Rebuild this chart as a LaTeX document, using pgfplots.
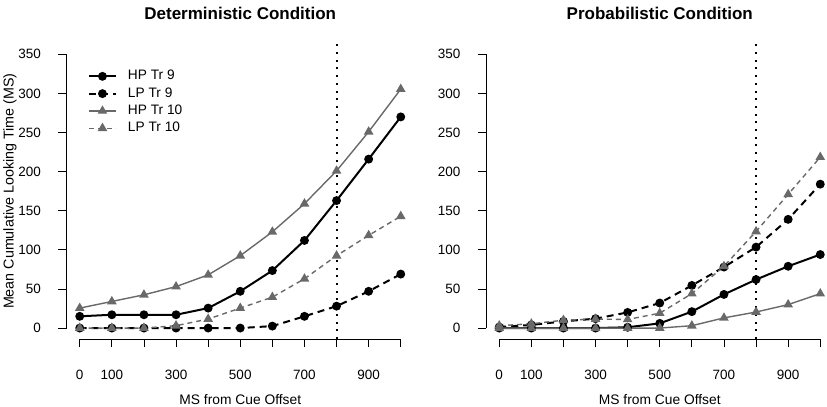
\documentclass[border=0pt]{standalone}
\usepackage{pgfplots}
\pgfplotsset{compat=1.18}
\usepackage{fontspec}
\setmainfont{Liberation Sans}
\definecolor{rgray}{RGB}{105,105,105}
\pgfplotsset{
 rstyle/.style={
  width=346.7bp, height=295.6bp, scale only axis,
  xmin=-40, xmax=1040, ymin=-14, ymax=364,
  clip=false,
  axis line style={draw=none},
  tick pos=left, tick align=outside,
  major tick length=8.5bp,
  tick style={black, line width=0.8bp},
  xtick={0,100,...,1000},
  xticklabels={0,100,{},300,{},500,{},700,{},900,{}},
  ytick={0,50,...,350},
  /pgf/number format/assume math mode=true,
  tick label style={font=\fontsize{13.5bp}{16bp}\selectfont, inner sep=0pt},
  xticklabel style={anchor=base, yshift=-32bp},
  yticklabel style={anchor=east, xshift=-17.4bp},
  xlabel style={font=\fontsize{13.8bp}{16bp}\selectfont, at={(axis description cs:0.5,0)}, anchor=base, yshift=-65bp},
  ylabel style={font=\fontsize{14.3bp}{16bp}\selectfont, at={(axis description cs:-0.164,0.5)}, anchor=center},
  title style={font=\bfseries\fontsize{17bp}{20bp}\selectfont, at={(axis description cs:0.5,1)}, anchor=base, yshift=17.5bp},
  xlabel={MS from Cue Offset},
 },
 hp9/.style={black, line width=2bp, mark=*, mark size=3.4bp, mark options={solid}},
 lp9/.style={black, line width=2bp, dash pattern=on 7bp off 5bp, mark=*, mark size=3.4bp, mark options={solid}},
 hp10/.style={rgray, line width=1.4bp, mark=triangle*, mark size=4.2bp, mark options={solid}},
 lp10/.style={rgray, line width=1.4bp, dash pattern=on 5bp off 4bp, mark=triangle*, mark size=4.2bp, mark options={solid}},
}
\begin{document}
\begin{tikzpicture}
\begin{axis}[rstyle, at={(66.9bp,68bp)}, anchor=south west,
  title={Deterministic Condition},
  ylabel={Mean Cumulative Looking Time (MS)},
  legend image code/.code={\draw[mark repeat=2,mark phase=2,#1] plot coordinates {(0bp,0bp) (13.5bp,0bp) (27bp,0bp)};},
  legend style={draw=none, fill=none, inner sep=0pt, at={(axis cs:25,330)}, anchor=north west,
    font=\fontsize{13.7bp}{16bp}\selectfont,
    nodes={inner sep=0pt, text height=9.6bp, text depth=2.7bp},
    row sep=5bp, column sep=11bp},
  legend cell align=left]
\addplot[hp9] coordinates {(0,15)(100,17)(200,17)(300,17)(400,25.5)(500,47)(600,73.5)(700,112)(800,163)(900,216)(1000,270)};
\addlegendentry{HP Tr 9}
\addplot[lp9] coordinates {(0,0)(100,0)(200,0)(300,0)(400,0)(500,0)(600,2.5)(700,15)(800,28)(900,47)(1000,69)};
\addlegendentry{LP Tr 9}
\addplot[hp10] coordinates {(0,25.5)(100,34)(200,42.5)(300,53)(400,68)(500,92.5)(600,123)(700,159)(800,201)(900,251)(1000,305.5)};
\addlegendentry{HP Tr 10}
\addplot[lp10] coordinates {(0,0)(100,0)(200,0)(300,3)(400,11.5)(500,25.5)(600,39.5)(700,63)(800,92.5)(900,118.5)(1000,143)};
\addlegendentry{LP Tr 10}
\draw[black, line width=0.8bp] (axis cs:0,-14) -- (axis cs:1000,-14);
\draw[black, line width=0.8bp] (axis cs:-40,0) -- (axis cs:-40,350);
\draw[black, line width=2bp, dash pattern=on 2bp off 5.7bp] (axis cs:800,-14) -- (axis cs:800,364);
\end{axis}
\begin{axis}[rstyle, at={(486.4bp,68bp)}, anchor=south west,
  title={Probabilistic Condition}]
\addplot[hp9] coordinates {(0,0)(100,0)(200,0)(300,0)(400,1)(500,6)(600,21)(700,43)(800,62)(900,79)(1000,94)};
\addplot[lp9] coordinates {(0,1.3)(100,4)(200,8.5)(300,12)(400,20)(500,32)(600,54.5)(700,78)(800,103.5)(900,139)(1000,184)};
\addplot[hp10] coordinates {(0,0)(100,0)(200,0)(300,0)(400,0)(500,0)(600,3)(700,13)(800,20.5)(900,30)(1000,44)};
\addplot[lp10] coordinates {(0,3)(100,5.5)(200,10)(300,11.5)(400,11)(500,19)(600,44)(700,79)(800,123.5)(900,171)(1000,218.5)};
\draw[black, line width=0.8bp] (axis cs:0,-14) -- (axis cs:1000,-14);
\draw[black, line width=0.8bp] (axis cs:-40,0) -- (axis cs:-40,350);
\draw[black, line width=2bp, dash pattern=on 2bp off 5.7bp] (axis cs:800,-14) -- (axis cs:800,364);
\end{axis}
\pgfresetboundingbox
\useasboundingbox (0,0) rectangle (827bp,407bp);
\end{tikzpicture}
\end{document}
